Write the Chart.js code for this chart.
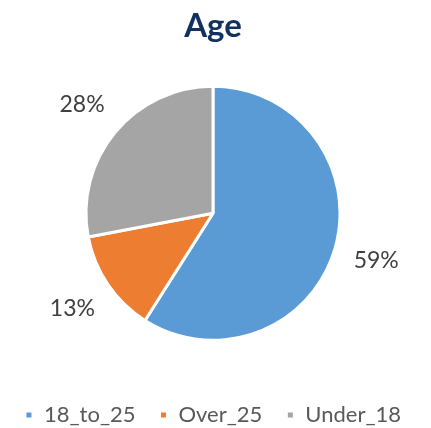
<!DOCTYPE html>
<html>
<head>
<meta charset="utf-8">
<script src="https://cdn.jsdelivr.net/npm/chart.js@4"></script>
<style>
html,body{margin:0;padding:0;background:#fff;}
#wrap{width:431px;height:428px;}
</style>
</head>
<body>
<div id="wrap"><canvas id="c" width="431" height="428"></canvas></div>
<script>
const titleText = "Age";
const categories = ["18_to_25", "Over_25", "Under_18"];
const values = [59, 13, 28];
const colors = ["#5B9BD5", "#ED7D31", "#A5A5A5"];

const outLabels = {
  id: "outLabels",
  afterDatasetsDraw(chart) {
    const ctx = chart.ctx;
    const meta = chart.getDatasetMeta(0);
    const ds = chart.data.datasets[0];
    const total = ds.data.reduce((a, b) => a + b, 0);
    ctx.save();
    ctx.font = "23px Lato";
    ctx.fillStyle = "#404040";
    ctx.textAlign = "center";
    ctx.textBaseline = "middle";
    meta.data.forEach((arc, i) => {
      const p = arc.getProps(["x", "y", "startAngle", "endAngle", "outerRadius"], true);
      const a = (p.startAngle + p.endAngle) / 2;
      const r = p.outerRadius + 43;
      const pct = Math.round(ds.data[i] / total * 100) + "%";
      ctx.fillText(pct, p.x + Math.cos(a) * r, p.y + Math.sin(a) * r);
    });
    ctx.restore();
  }
};

new Chart(document.getElementById("c"), {
  type: "pie",
  data: {
    labels: categories,
    datasets: [{
      data: values,
      backgroundColor: colors,
      borderColor: "#ffffff",
      borderWidth: 3,
      radius: 127
    }]
  },
  options: {
    responsive: false,
    animation: false,
    layout: { padding: { top: 0, bottom: -8, left: 0, right: 5 } },
    plugins: {
      title: {
        display: true,
        text: titleText,
        color: "#12315E",
        font: { family: "Lato", size: 33, weight: "bold" },
        padding: { top: 7, bottom: 0 }
      },
      legend: {
        position: "bottom",
        labels: {
          color: "#595959",
          font: { family: "Lato", size: 22 },
          boxWidth: 8,
          boxHeight: 8,
          padding: 24
        }
      },
      tooltip: { enabled: false }
    }
  },
  plugins: [outLabels]
});
</script>
</body>
</html>
